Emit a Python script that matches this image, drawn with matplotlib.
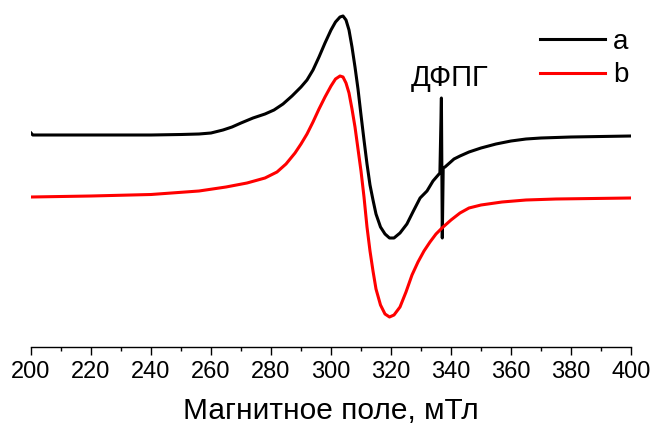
import numpy as np
import matplotlib.pyplot as plt
from matplotlib.ticker import MultipleLocator

plt.rcParams['font.family'] = ['Liberation Sans', 'DejaVu Sans']

# spectrum a (black), magnetic field in mT, intensity in arbitrary units
field_a = [200, 200.6, 220, 240, 250, 256, 260, 264, 267, 270, 274, 278, 281,
           284, 287, 290, 292, 294, 296, 298, 300, 301.5, 303, 304, 305, 306,
           307, 308, 309, 310, 311, 312, 313, 314, 315, 316.5, 318, 319.5, 321,
           323, 325.3, 327.3, 329.7, 332, 334, 336.3, 336.8, 337.1, 337.4, 338,
           339.5, 341, 343, 346, 350, 355, 360, 365, 370, 380, 400]
sig_a = [214, 212, 212, 212, 212.5, 213, 214, 217, 220, 224, 229, 233, 237,
         243, 251, 260, 267, 277, 290, 304, 317, 325, 330, 331, 327, 317,
         300, 280, 258, 232, 207, 183, 162, 147, 133, 120, 113, 109, 109,
         114, 123, 135, 149, 156, 166, 174, 249, 109, 179, 180,
         184, 188, 191, 195, 199, 203, 206, 208, 209, 210, 211]

# spectrum b (red)
field_b = [200, 220, 240, 256, 265, 272, 278, 282, 285, 288, 290, 292, 294,
           296, 298, 300, 301.5, 303, 304, 305, 306, 307, 308, 309, 310, 311,
           312, 313, 314, 315, 316.5, 318, 319.5, 321, 323, 325, 327, 329,
           331, 333, 335, 337, 340, 343, 346, 350, 357, 365, 375, 400]
sig_b = [150, 151, 152.5, 156, 160, 164, 169, 175, 183, 194, 203, 213, 225,
         238, 250, 261, 268, 271, 270, 264, 254, 238, 220, 198, 176, 150,
         120, 96, 76, 58, 42, 33, 30, 32, 40, 55, 72, 85,
         96, 105, 113, 119, 127, 134, 139, 142, 145, 147, 148, 149]

fig = plt.figure(figsize=(6.52, 4.25), dpi=100)
ax = fig.add_axes([31/652, 78/425, 600/652, 347/425])

ax.plot(field_a, sig_a, color='black', lw=2.2, label='a')
ax.plot(field_b, sig_b, color='red', lw=2.2, label='b')

ax.text(339.7, 261, 'ДФПГ', ha='center', va='baseline', fontsize=21)

ax.set_xlim(200, 400)
ax.set_ylim(0, 347)
for s in ['top', 'right', 'left']:
    ax.spines[s].set_visible(False)
ax.spines['bottom'].set_linewidth(1.0)
ax.set_yticks([])
ax.xaxis.set_major_locator(MultipleLocator(20))
ax.xaxis.set_minor_locator(MultipleLocator(10))
ax.tick_params(axis='x', which='major', length=6, width=1, labelsize=17, pad=4)
ax.tick_params(axis='x', which='minor', length=3, width=1)
ax.set_xlabel('Магнитное поле, мТл', fontsize=21.5, labelpad=10)

ax.legend(loc='upper left', frameon=False, fontsize=20, handlelength=2.34,
          handletextpad=0.3, labelspacing=0.26, borderpad=0, borderaxespad=0,
          bbox_to_anchor=(540/652, 1 - 29/425), bbox_transform=fig.transFigure)

fig.savefig('out.png', dpi=100)
